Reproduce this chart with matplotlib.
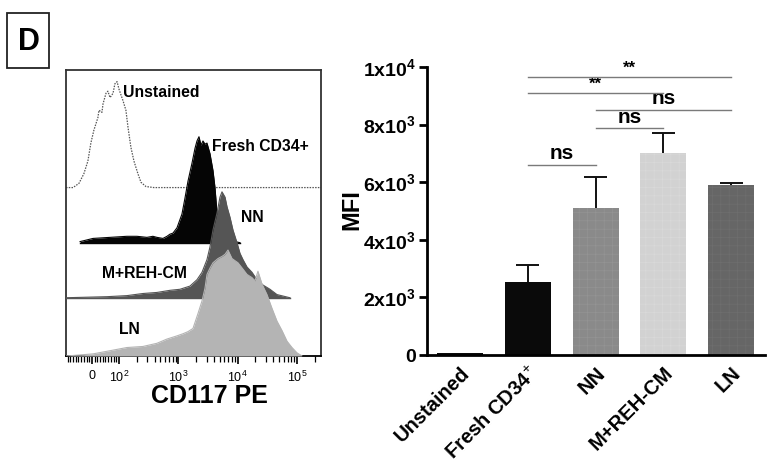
import numpy as np
import matplotlib
matplotlib.use("Agg")
import matplotlib.pyplot as plt
from matplotlib.patches import Rectangle

plt.rcParams['font.family'] = ['Liberation Sans', 'DejaVu Sans']
plt.rcParams['mathtext.fontset'] = 'custom'
plt.rcParams['mathtext.rm'] = 'Liberation Sans'
plt.rcParams['mathtext.bf'] = 'Liberation Sans:bold'
plt.rcParams['mathtext.it'] = 'Liberation Sans:italic'
plt.rcParams['hatch.linewidth'] = 0.5

# ---------------- histogram data (CD117 PE fluorescence, % of max) ----------------
unstained_x = [-96, -70, -48, -30, -15, -4, 7, 22, 26, 37, 41, 52, 59, 67, 78, 85, 93, 100,
               117, 131, 142, 159, 179, 209, 235, 285, 389, 255000]
unstained_h = [0, 0, 4, 13, 25, 42, 54, 66, 73, 71, 79, 89, 91, 85, 89, 98, 100, 93,
               82, 73, 57, 38, 25, 13, 5, 1, 0, 0]

fresh_x = [-44, 4, 67, 136, 201, 296, 374, 437, 552, 645, 724, 814, 951, 1154, 1297, 1458,
           1703, 1914, 2067, 2234, 2415, 2610, 2820, 3048, 3426, 3850, 4160, 4500, 5050, 6140, 10970]
fresh_h = [1, 4, 5, 6, 6, 5, 6, 5, 4, 6, 8, 9, 14, 27, 42, 58,
           75, 89, 96, 100, 92, 96, 93, 94, 84, 68, 52, 28, 8, 3, 0]

nn_x = [-96, 56, 136, 254, 437, 724, 1069, 1574, 2067, 2512, 3048, 3426, 3850, 4500, 5050,
        5460, 6140, 6630, 7450, 8360, 9770, 10970, 12330, 14420, 17500, 21250, 26800, 35150,
        46100, 76400]
nn_h = [0, 1, 2, 4, 5, 7, 8, 11, 17, 24, 36, 48, 64, 80, 95,
        100, 95, 86, 76, 64, 52, 42, 36, 29, 24, 17, 12, 8,
        3, 0]

ln_x = [-96, -44, 4, 67, 136, 254, 437, 645, 951, 1200, 1458, 1770, 2148, 2512, 2820, 3048,
        3426, 3850, 4675, 5460, 6140, 6890, 8050, 9040, 10160, 12330, 14420, 17500, 19630,
        22060, 25780, 31300, 38030, 46100, 56100, 68100, 82650, 100400, 121800]
ln_h = [0, 1, 2, 5, 8, 9, 12, 16, 19, 21, 23, 26, 40, 52, 64, 77,
        83, 88, 92, 94, 96, 100, 92, 90, 88, 82, 77, 74, 71,
        80, 68, 58, 45, 33, 24, 14, 8, 3, 0]

hist_tick_vals = [0, 100, 1000, 10000, 100000]
hist_tick_labels = ['0', r'$10^{2}$', r'$10^{3}$', r'$10^{4}$', r'$10^{5}$']

# ---------------- bar chart data ----------------
categories = ['Unstained', 'Fresh CD34$^{+}$', 'NN', 'M+REH-CM', 'LN']
mfi = [60, 2550, 5100, 7000, 5900]
mfi_err = [0, 560, 1080, 720, 60]
bar_colors = ['#0a0a0a', '#0a0a0a', '#8a8a8a', '#d2d2d2', '#666666']
hatch_colors = ['#0a0a0a', '#0a0a0a', '#949494', '#d9d9d9', '#6e6e6e']

comparisons = [(1, 4, '**'), (1, 3, '**'), (2, 4, 'ns'), (2, 3, 'ns'), (1, 2, 'ns')]
comparison_y = [9640, 9090, 8500, 7870, 6590]

ytick_vals = [0, 2000, 4000, 6000, 8000, 10000]
ytick_labels = ['0', r'$\mathbf{2x10^{3}}$', r'$\mathbf{4x10^{3}}$', r'$\mathbf{6x10^{3}}$',
                r'$\mathbf{8x10^{3}}$', r'$\mathbf{1x10^{4}}$']

W, H = 774, 473
fig = plt.figure(figsize=(W / 100, H / 100), dpi=100)

# panel label
fig.patches.append(Rectangle((7 / W, 1 - 68 / H), 42 / W, 55 / H, transform=fig.transFigure,
                             fill=False, lw=1.3, edgecolor='#222222'))
fig.text(28.5 / W, 1 - 42 / H, 'D', fontsize=22, fontweight='bold', ha='center', va='center')

# ---------------- left: offset histograms ----------------
ax1 = fig.add_axes([66 / W, 1 - 356 / H, 255 / W, 286 / H])
ax1.set_xscale('symlog', linthresh=100, linscale=0.41, base=10)
ax1.set_xlim(-96, 255000)
ax1.set_ylim(0, 270)

offsets = {'unstained': 159, 'fresh': 107, 'nn': 55, 'ln': 0}

ux = np.array(unstained_x, float); uh = np.array(unstained_h, float)
ax1.plot(ux, uh + offsets['unstained'], ls=(0, (1.2, 1.0)), color='#555555', lw=0.9, zorder=1)

fx = np.array(fresh_x, float); fh = np.array(fresh_h, float)
ax1.fill_between(fx, offsets['fresh'], fh + offsets['fresh'], color='#050505', lw=0, zorder=2)
ax1.plot(fx, fh + offsets['fresh'], color='#050505', lw=0.8, zorder=2)
ax1.plot([fx[0], fx[-1]], [offsets['fresh']] * 2, color='#050505', lw=1.0, zorder=2)

nx = np.array(nn_x, float); nh = np.array(nn_h, float)
ax1.fill_between(nx, offsets['nn'], nh + offsets['nn'], color='#555555', lw=0, zorder=3)
ax1.plot(nx, nh + offsets['nn'], color='#555555', lw=0.8, zorder=3)
ax1.plot([nx[0], nx[-1]], [offsets['nn']] * 2, color='#555555', lw=1.0, zorder=3)

lx = np.array(ln_x, float); lh = np.array(ln_h, float)
ax1.fill_between(lx, offsets['ln'], lh + offsets['ln'], color='#b4b4b4', lw=0, zorder=4)
ax1.plot(lx, lh + offsets['ln'], color='#b4b4b4', lw=0.8, zorder=4)

label_kw = dict(fontsize=11.3, fontweight='bold', va='center', ha='left', transform=ax1.transAxes, zorder=6)
ax1.text(0.224, 0.92, 'Unstained', **label_kw)
ax1.text(0.573, 0.734, 'Fresh CD34+', **label_kw)
ax1.text(0.686, 0.486, 'NN', **label_kw)
ax1.text(0.141, 0.287, 'M+REH-CM', **label_kw)
ax1.text(0.208, 0.094, 'LN', **label_kw)

for s in ['left', 'right', 'top']:
    ax1.spines[s].set_color('#333333')
    ax1.spines[s].set_linewidth(1.3)
ax1.spines['bottom'].set_linewidth(1.3)
ax1.set_yticks([])
ax1.set_xticks(hist_tick_vals)
ax1.set_xticklabels(hist_tick_labels)
minor = list(np.arange(-90, 100, 10))
for d in [100, 1000, 10000, 100000]:
    for k in range(2, 10):
        if k * d < 255000:
            minor.append(k * d)
ax1.set_xticks(minor, minor=True)
ax1.tick_params(axis='x', which='major', direction='out', length=6, width=1.2, labelsize=9, pad=4)
ax1.tick_params(axis='x', which='minor', direction='out', length=4, width=0.9)
fig.text(209 / W, 1 - 396 / H, 'CD117 PE', fontsize=18, fontweight='bold', ha='center', va='center')

# ---------------- right: bar chart ----------------
ax2 = fig.add_axes([427 / W, 1 - 355 / H, 338 / W, 288 / H])
xpos = np.arange(len(categories))
bar_w = 0.68
for i in range(len(categories)):
    ax2.bar(xpos[i], mfi[i], width=bar_w, color=bar_colors[i], edgecolor=hatch_colors[i],
            linewidth=0, hatch='++', zorder=2)
cap_half = bar_w / 4
for i in range(len(categories)):
    if mfi_err[i] > 0:
        top = mfi[i] + mfi_err[i]
        ax2.vlines(xpos[i], mfi[i], top, color='#111111', lw=1.4, zorder=3)
        ax2.hlines(top, xpos[i] - cap_half, xpos[i] + cap_half, color='#111111', lw=1.4, zorder=3)
ax2.set_xlim(-0.49, 4.5)
ax2.set_ylim(0, 10000)
ax2.spines['top'].set_visible(False)
ax2.spines['right'].set_visible(False)
ax2.spines['left'].set_linewidth(2)
ax2.spines['bottom'].set_linewidth(2)
ax2.set_yticks(ytick_vals)
ax2.set_yticklabels(ytick_labels, fontsize=14, fontweight='bold')
ax2.tick_params(axis='y', direction='out', length=6, width=2, pad=2)
ax2.set_xticks(xpos)
ax2.set_xticklabels(categories, rotation=45, ha='right', rotation_mode='anchor',
                    fontsize=14.5, fontweight='bold')
ax2.tick_params(axis='x', length=0, pad=6)

for (i, j, lab), yv in zip(comparisons, comparison_y):
    ax2.plot([i, j], [yv, yv], color='#7a7a7a', lw=1.0, clip_on=False, zorder=4)
    if lab == '**':
        ax2.text((i + j) / 2, yv + 60, lab, ha='center', va='bottom', fontsize=12,
                 fontweight='bold', clip_on=False)
    else:
        ax2.text((i + j) / 2, yv + 60, lab, ha='center', va='bottom', fontsize=15,
                 fontweight='bold', clip_on=False)

fig.text(352 / W, 1 - 210 / H, 'MFI', rotation=90, fontsize=17, fontweight='bold',
         ha='center', va='center')

fig.savefig('out.png', dpi=100)
